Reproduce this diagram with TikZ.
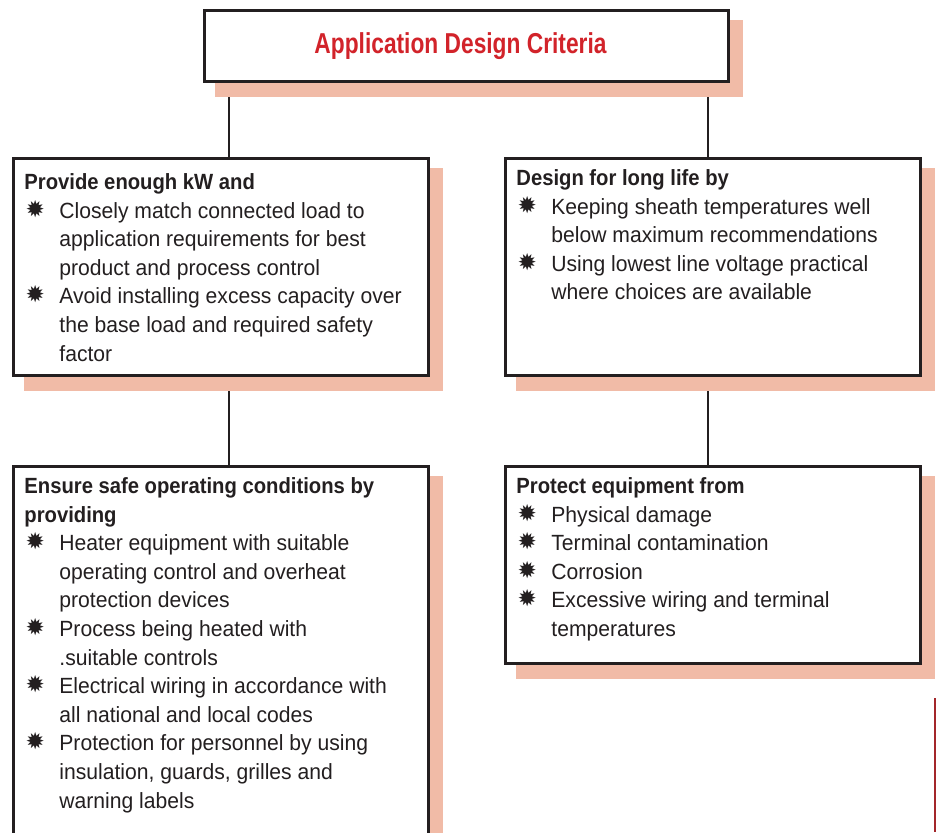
\documentclass[tikz,border=0pt]{standalone}
\usepackage{fontspec}
\setmainfont[FakeStretch=0.96,BoldFeatures={FakeStretch=0.92}]{Liberation Sans}
\newfontfamily\headfont[FakeStretch=0.79]{Liberation Sans}
\newfontfamily\symfont{DejaVu Sans}
\usetikzlibrary{fit,backgrounds}
\definecolor{ink}{HTML}{231F20}
\definecolor{shadowpink}{HTML}{F1BBA7}
\definecolor{titlered}{HTML}{D2232A}
\definecolor{edgered}{HTML}{A3262A}
% bullet marker and hanging indent for list lines
\newcommand{\bul}{\makebox[17.5pt][l]{\hspace{0.6pt}\raisebox{0.5pt}{\symfont\fontsize{11.5}{11.5}\selectfont ✹}}}
\newcommand{\ind}{\hspace*{17.5pt}}
\newcommand{\firstline}{\rule{0pt}{9pt}}
\begin{document}
\begin{tikzpicture}[x=0.5pt,y=-0.5pt,
  frame/.style={draw=ink, line width=1.5pt, fill=white, inner sep=0pt},
  copy/.style={anchor=north west, inner sep=0pt, align=left, text=ink,
    font=\fontsize{11}{14.3}\selectfont},
  link/.style={draw=ink, line width=1.35pt}]
\path[use as bounding box, clip] (0,0) rectangle (936,832);

% boxes
\node[frame, fit={(204.5,10.5)(728.5,81.5)}] (title) {};
\node[frame, fit={(13.5,158.5)(428.5,375.5)}] (b1) {};
\node[frame, fit={(505.5,158.5)(920.5,375.5)}] (b2) {};
\node[frame, fit={(13.5,466.5)(428.5,900)}] (b3) {};
\node[frame, fit={(505.5,466.5)(920.5,663.5)}] (b4) {};

% connectors, then the offset shadows over them, all behind the boxes
\coordinate (lx) at ([xshift=13pt]title.south west);
\coordinate (rx) at ([xshift=-11pt]title.south east);
\begin{scope}[on background layer]
  \draw[link] (lx) -- (lx |- b1.north);
  \draw[link] (rx) -- (rx |- b2.north);
  \draw[link] (lx |- b1.south) -- (lx |- b3.north);
  \draw[link] (rx |- b2.south) -- (rx |- b4.north);
  \foreach \b in {title,b1,b2,b3,b4}
    \fill[shadowpink] ([shift={(12,11)}]\b.north west) rectangle ([shift={(13,14)}]\b.south east);
\end{scope}

% heading
\node[anchor=base, inner sep=0pt, text=titlered,
  font=\headfont\bfseries\fontsize{14.4}{16}\selectfont] (head) at (460.5,53) {Application Design Criteria};

% box texts
\node[copy] (t1) at (24,171) {\firstline\textbf{Provide enough kW and}\\
\bul Closely match connected load to\\
\ind application requirements for best\\
\ind product and process control\\
\bul Avoid installing excess capacity over\\
\ind the base load and required safety\\
\ind factor};

\node[copy] (t2) at (516,167) {\firstline\textbf{Design for long life by}\\
\bul Keeping sheath temperatures well\\
\ind below maximum recommendations\\
\bul Using lowest line voltage practical\\
\ind where choices are available};

\node[copy] (t3) at (24,475) {\firstline\textbf{Ensure safe operating conditions by}\\
\textbf{providing}\\
\bul Heater equipment with suitable\\
\ind operating control and overheat\\
\ind protection devices\\
\bul Process being heated with\\
\ind .suitable controls\\
\bul Electrical wiring in accordance with\\
\ind all national and local codes\\
\bul Protection for personnel by using\\
\ind insulation, guards, grilles and\\
\ind warning labels};

\node[copy] (t4) at (516,475) {\firstline\textbf{Protect equipment from}\\
\bul Physical damage\\
\bul Terminal contamination\\
\bul Corrosion\\
\bul Excessive wiring and terminal\\
\ind temperatures};

% page edge rule
\draw[edgered, line width=0.8pt] (935,698) -- (935,832);
\end{tikzpicture}
\end{document}
